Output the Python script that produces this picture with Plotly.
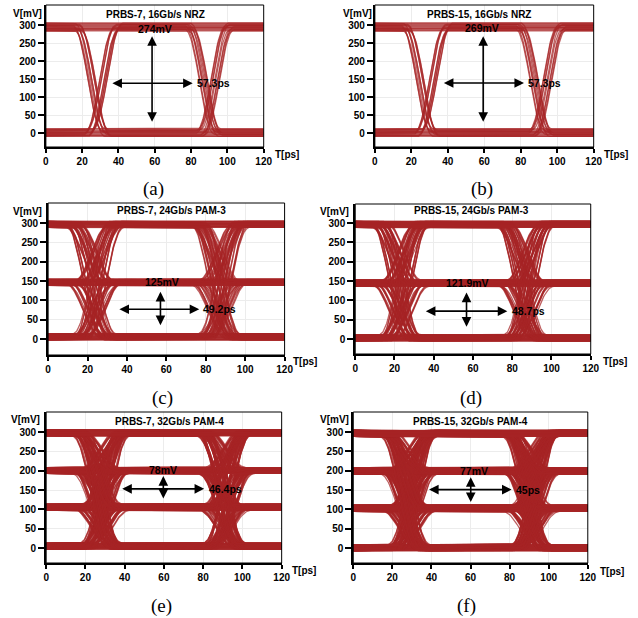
import numpy as np
import plotly.graph_objects as go
from itertools import product

# ---------------- values ----------------
PANELS = ["a", "b", "c", "d", "e", "f"]
TITLES = ["PRBS-7, 16Gb/s NRZ", "PRBS-15, 16Gb/s NRZ",
          "PRBS-7, 24Gb/s PAM-3", "PRBS-15, 24Gb/s PAM-3",
          "PRBS-7, 32Gb/s PAM-4", "PRBS-15, 32Gb/s PAM-4"]
EYE_HEIGHT_TEXT = ["274mV", "269mV", "125mV", "121.9mV", "78mV", "77mV"]
EYE_WIDTH_TEXT = ["57.3ps", "57.3ps", "49.2ps", "48.7ps", "46.4ps", "45ps"]
X_TICKS = [0, 20, 40, 60, 80, 100, 120]
Y_TICKS = [0, 50, 100, 150, 200, 250, 300]

# signal levels (mV)
LEVELS_A = [1.5, 295.0]
LEVELS_B = [1.5, 295.0]
LEVELS_C = [6.0, 147.0, 297.0]
LEVELS_D = [3.0, 145.0, 297.0]
LEVELS_E = [5.0, 106.0, 201.0, 299.0]
LEVELS_F = [1.0, 103.0, 200.0, 297.0]

# centre of first / second crossing zone (ps)
CROSS_A = [28.5, 90.0]
CROSS_B = [28.4, 91.0]
CROSS_C = [23.5, 87.0]
CROSS_D = [23.0, 86.5]
CROSS_E = [28.0, 91.0]
CROSS_F = [28.5, 91.0]

# falling edges lead rising edges by (ps), edge half duration (ps)
FALL_LEAD = [3.2, 3.6, 2.0, 2.0, 2.0, 2.0]
EDGE_HALF = [8.0, 8.0, 9.0, 9.0, 9.5, 9.5]

# timing spread of edges (ps)
JITTER_A = [-2.2, -1.1, 0.0, 1.1, 2.2]
JITTER_B = [-2.2, -1.1, 0.0, 1.1, 2.2]
JITTER_C = [-3.8, -2.3, -0.8, 0.8, 2.3, 3.8]
JITTER_D = [-3.8, -2.5, -1.3, 0.0, 1.3, 2.5, 3.8]
JITTER_E = [-3.2, -1.9, -0.6, 0.6, 1.9, 3.2]
JITTER_F = [-3.2, -2.1, -1.1, 0.0, 1.1, 2.1, 3.2]

# amplitude spread of the level bands (mV)
SPREAD_NRZ = [-11.0, -8.0, -5.0, -2.0, 1.0, 4.0, 7.0, 10.0]
SPREAD_PAM = [-8.0, -5.5, -3.0, -0.5, 2.0, 4.5, 7.0]

# normalised edge profile (time in half-durations -> fraction of swing)
EDGE_U = [-1.0, -0.8, -0.6, -0.4, -0.2, 0.0, 0.2, 0.4, 0.6, 0.8, 1.0]
EDGE_P = [0.0, 0.025, 0.09, 0.2, 0.34, 0.5, 0.66, 0.8, 0.91, 0.975, 1.0]

# eye width arrow (t0, t1, v), eye height arrow (t, v0, v1)
WIDTH_ARROW = [(35.8, 80.9, 138), (37.0, 81.8, 139), (35.4, 76.7, 77),
               (35.2, 77.5, 72), (38.0, 80.5, 153), (38.0, 81.0, 151)]
HEIGHT_ARROW = [(58.5, 27, 269), (59.4, 27, 269), (57.0, 32, 122),
                (56.7, 28, 120), (59.7, 124, 186), (60.1, 115, 183)]
HEIGHT_TEXT_POS = [(60.0, 289), (59.0, 293), (58.0, 148),
                   (57.0, 145), (59.7, 201), (61.8, 199)]
WIDTH_TEXT_POS = [(82.4, 138), (83.0, 139), (77.5, 77),
                  (78.8, 72), (82.2, 153), (82.3, 151)]
TITLE_POS = [(60.2, 328), (57.0, 328), (62.8, 333),
             (59.0, 333), (63.0, 326), (59.8, 326)]

LEVELS = [LEVELS_A, LEVELS_B, LEVELS_C, LEVELS_D, LEVELS_E, LEVELS_F]
CROSS = [CROSS_A, CROSS_B, CROSS_C, CROSS_D, CROSS_E, CROSS_F]
JITTER = [JITTER_A, JITTER_B, JITTER_C, JITTER_D, JITTER_E, JITTER_F]
SPREAD = [SPREAD_NRZ, SPREAD_NRZ, SPREAD_PAM, SPREAD_PAM, SPREAD_PAM, SPREAD_PAM]

# ---------------- layout (pixels) ----------------
W, H = 638, 618
# left, right, top, bottom of each plot box; pixel rows of 0 mV and 300 mV
BOX = [(43.7, 265.7, 5, 147, 133, 25), (379, 602, 5, 147, 133, 25),
       (46, 287, 203, 355, 339, 223), (359, 599, 204, 354, 339, 223),
       (44, 284, 412, 563, 548, 432), (357, 596, 412, 563, 548, 432)]
VLABEL_POS = [(24.5, 14), (361.5, 14), (24.5, 211), (338, 211), (23, 419), (338, 419)]
TLABEL_POS = [(289.5, 154), (625, 154), (308, 361), (623.5, 361.5), (306.5, 570.5), (620.5, 571)]
SUB_POS = [(153, 189), (488, 189), (163, 398), (476.7, 398), (161.7, 606), (472.3, 606)]

T = np.arange(0.0, 120.001, 0.5)
EDGE_COLOR = "rgba(166,36,38,0.72)"
FONT = "Liberation Sans, Arial, sans-serif"


def edge(t, c, h):
    return np.interp((t - c) / h, EDGE_U, EDGE_P)


def eye(levels, cross, lead, half, jit, spread):
    xs, ys = [], []
    n, m = len(jit), len(spread)
    tl = T.tolist()
    for k, (l0, l1, l2) in enumerate(product(levels, repeat=3)):
        s1 = np.sign(l1 - l0)
        s2 = np.sign(l2 - l1)
        for j in range(n):
            c1 = cross[0] + lead * s1 + jit[j]
            c2 = cross[1] + lead * s2 + jit[(2 * j + k + 1) % n]
            off = spread[(3 * j + k) % m]
            v = l0 + (l1 - l0) * edge(T, c1, half) + (l2 - l1) * edge(T, c2, half) + off
            xs.extend(tl)
            xs.append(None)
            ys.extend(np.round(v, 1).tolist())
            ys.append(None)
    return xs, ys


def px(x):
    return x / W


def py(y):
    return 1 - y / H


fig = go.Figure()
layout = dict(width=W, height=H, margin=dict(l=0, r=0, t=0, b=0),
              paper_bgcolor="white", plot_bgcolor="white", showlegend=False)
annotations = []
shapes = []
bold = dict(family=FONT, size=10, color="black", weight="bold")

for i, pid in enumerate(PANELS):
    sfx = "" if i == 0 else str(i + 1)
    xa, ya = "x" + sfx, "y" + sfx
    l, r, t, b, y0, y300 = BOX[i]
    s = (y0 - y300) / 300.0
    yr = [(y0 - b) / s, (y0 - t) / s]

    xs, ys = eye(LEVELS[i], CROSS[i], FALL_LEAD[i], EDGE_HALF[i], JITTER[i], SPREAD[i])
    fig.add_trace(go.Scatter(x=xs, y=ys, mode="lines", xaxis=xa, yaxis=ya,
                             line=dict(color=EDGE_COLOR, width=1.3),
                             hoverinfo="skip", showlegend=False))

    layout["xaxis" + sfx] = dict(domain=[px(l), px(r)], range=[0, 120], anchor=ya,
                                 tickvals=X_TICKS, ticks="outside", ticklen=4, tickwidth=1.5,
                                 tickcolor="black", showline=True, linewidth=2, linecolor="black",
                                 showgrid=True, gridcolor="#ececec", gridwidth=1, zeroline=False,
                                 tickfont=bold, fixedrange=True)
    layout["yaxis" + sfx] = dict(domain=[py(b), py(t)], range=yr, anchor=xa,
                                 tickvals=Y_TICKS, ticks="outside", ticklen=6, tickwidth=2,
                                 tickcolor="black", showline=True, linewidth=2, linecolor="black",
                                 showgrid=True, gridcolor="#ececec", gridwidth=1, zeroline=False,
                                 tickfont=bold, fixedrange=True)
    shapes.append(dict(type="rect", xref=xa + " domain", yref=ya + " domain",
                       x0=0, x1=1, y0=0, y1=1, line=dict(color="black", width=1)))

    # title inside
    annotations.append(dict(x=TITLE_POS[i][0], y=TITLE_POS[i][1], xref=xa, yref=ya,
                            text=TITLES[i], showarrow=False, font=bold,
                            xanchor="center", yanchor="middle"))
    # eye width arrow
    w0, w1, wv = WIDTH_ARROW[i]
    annotations.append(dict(x=w1, y=wv, ax=w0, ay=wv, xref=xa, yref=ya, axref=xa, ayref=ya,
                            text="", showarrow=True, arrowhead=2, startarrowhead=2,
                            arrowside="end+start", arrowsize=1.2, startarrowsize=1.2,
                            arrowwidth=1.6, arrowcolor="black", standoff=0, startstandoff=0))
    # eye height arrow
    hx, h0, h1 = HEIGHT_ARROW[i]
    annotations.append(dict(x=hx, y=h1, ax=hx, ay=h0, xref=xa, yref=ya, axref=xa, ayref=ya,
                            text="", showarrow=True, arrowhead=2, startarrowhead=2,
                            arrowside="end+start", arrowsize=1.2, startarrowsize=1.2,
                            arrowwidth=1.6, arrowcolor="black", standoff=0, startstandoff=0))
    annotations.append(dict(x=HEIGHT_TEXT_POS[i][0], y=HEIGHT_TEXT_POS[i][1], xref=xa, yref=ya,
                            text=EYE_HEIGHT_TEXT[i], showarrow=False,
                            font=dict(family=FONT, size=10.5, color="black", weight="bold"),
                            xanchor="center", yanchor="middle"))
    annotations.append(dict(x=WIDTH_TEXT_POS[i][0], y=WIDTH_TEXT_POS[i][1], xref=xa, yref=ya,
                            text=EYE_WIDTH_TEXT[i], showarrow=False,
                            font=dict(family=FONT, size=10.5, color="black", weight="bold"),
                            xanchor="left", yanchor="middle"))
    # axis labels
    annotations.append(dict(x=px(VLABEL_POS[i][0]), y=py(VLABEL_POS[i][1]), xref="paper",
                            yref="paper", text="V[mV]", showarrow=False, font=bold,
                            xanchor="center", yanchor="middle"))
    annotations.append(dict(x=px(TLABEL_POS[i][0]), y=py(TLABEL_POS[i][1]), xref="paper",
                            yref="paper", text="T[ps]", showarrow=False, font=bold,
                            xanchor="center", yanchor="middle"))
    annotations.append(dict(x=px(SUB_POS[i][0]), y=py(SUB_POS[i][1]), xref="paper",
                            yref="paper", text="(" + pid + ")", showarrow=False,
                            font=dict(family="Liberation Serif, Times New Roman, serif",
                                      size=19, color="black"),
                            xanchor="center", yanchor="middle"))

layout["annotations"] = annotations
layout["shapes"] = shapes
fig.update_layout(**layout)
fig.write_html("out.html", config={"displayModeBar": False},
               post_script="document.body.style.margin='0px';document.body.style.overflow='hidden';")
